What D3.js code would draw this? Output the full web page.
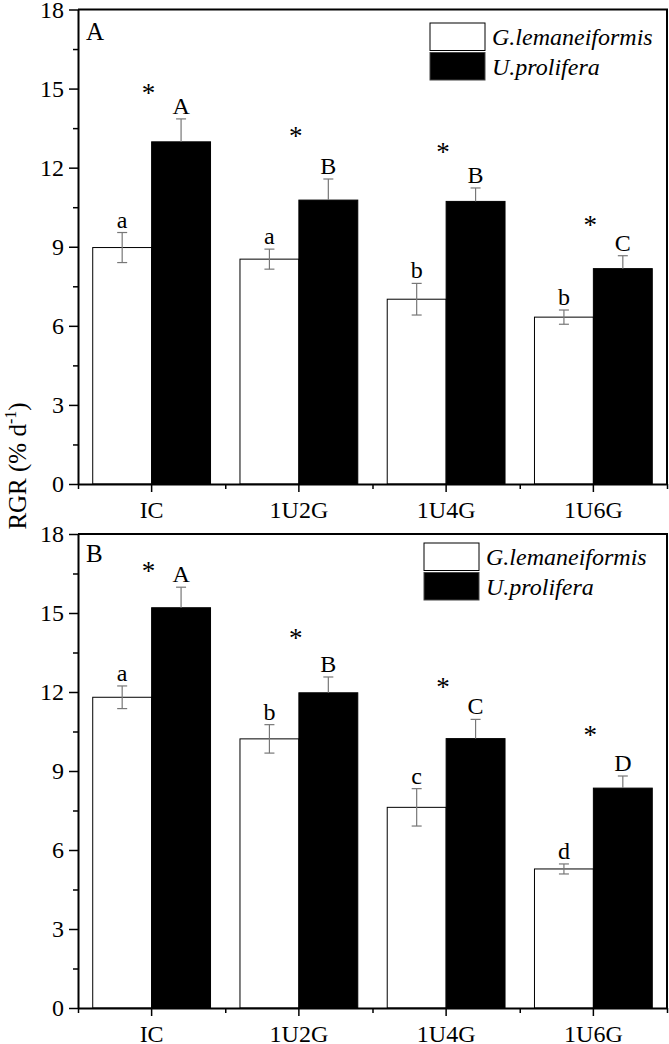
<!DOCTYPE html>
<html>
<head>
<meta charset="utf-8">
<script src="https://cdn.jsdelivr.net/npm/d3@7"></script>
<style>
  html, body { margin: 0; padding: 0; background: #fff; }
  svg { display: block; }
  text { font-family: "Liberation Serif", "Times New Roman", serif; fill: #000; }
</style>
</head>
<body>
<div id="chart"></div>
<script>
// ---------------------------------------------------------------------------
// Data
// ---------------------------------------------------------------------------

var categories = ["IC", "1U2G", "1U4G", "1U6G"];
var seriesNames = ["G.lemaneiformis", "U.prolifera"];
var yTicks = [0, 3, 6, 9, 12, 15, 18];
var yMinorTicks = [1.5, 4.5, 7.5, 10.5, 13.5, 16.5];

// panel A
var gValuesA = [8.97, 8.53, 7.01, 6.33];
var gErrorsA = [0.57, 0.38, 0.60, 0.27];
var uValuesA = [12.98, 10.77, 10.72, 8.17];
var uErrorsA = [0.87, 0.80, 0.51, 0.49];
var gLettersA = ["a", "a", "b", "b"];
var uLettersA = ["A", "B", "B", "C"];
var starsA = [15.04, 13.38, 12.77, 10.03];

// panel B
var gValuesB = [11.80, 10.22, 7.62, 5.28];
var gErrorsB = [0.43, 0.54, 0.71, 0.19];
var uValuesB = [15.20, 11.97, 10.23, 8.35];
var uErrorsB = [0.78, 0.60, 0.73, 0.46];
var gLettersB = ["a", "b", "c", "d"];
var uLettersB = ["A", "B", "C", "D"];
var starsB = [16.79, 14.25, 12.37, 10.55];

// ---------------------------------------------------------------------------
// Layout
// ---------------------------------------------------------------------------

var W = 669, H = 1044;
var plotLeft = 78, plotRight = 667;
var FONT = 24;

var svg = d3.select("#chart").append("svg")
    .attr("width", W)
    .attr("height", H);

var x0 = d3.scaleBand()
    .domain(categories)
    .range([plotLeft, plotRight])
    .paddingInner(0.2)
    .paddingOuter(0.1);

var x1 = d3.scaleBand()
    .domain(seriesNames)
    .range([0, x0.bandwidth()]);

// boundaries between groups, for the minor x ticks
var xEdges = d3.scaleLinear()
    .domain([0, categories.length])
    .range([plotLeft, plotRight]);

function drawPanel(opts) {
  var y = d3.scaleLinear()
      .domain([0, 18])
      .range([opts.bottom, opts.top]);

  var g = svg.append("g");

  var rows = categories.map(function(c, i) {
    return {
      cat: c,
      bars: [
        {s: seriesNames[0], v: opts.g[i], e: opts.gErr[i], l: opts.gLet[i]},
        {s: seriesNames[1], v: opts.u[i], e: opts.uErr[i], l: opts.uLet[i]}
      ],
      star: opts.stars[i]
    };
  });

  var groups = g.selectAll("g.grp")
      .data(rows)
    .enter().append("g")
      .attr("class", "grp")
      .attr("transform", function(d) { return "translate(" + x0(d.cat) + ",0)"; });

  groups.selectAll("rect")
      .data(function(d) { return d.bars; })
    .enter().append("rect")
      .attr("x", function(d) { return x1(d.s); })
      .attr("y", function(d) { return y(d.v); })
      .attr("width", x1.bandwidth())
      .attr("height", function(d) { return y(0) - y(d.v); })
      .attr("fill", function(d, i) { return i === 0 ? "#fff" : "#000"; })
      .attr("stroke", "#000")
      .attr("stroke-width", 1);

  // error bars (the black bars only show the upper half)
  var err = groups.selectAll("g.err")
      .data(function(d) { return d.bars; })
    .enter().append("g")
      .attr("class", "err")
      .attr("stroke", "#777")
      .attr("stroke-width", 1.2);

  err.append("line")
      .attr("x1", function(d) { return x1(d.s) + x1.bandwidth() / 2; })
      .attr("x2", function(d) { return x1(d.s) + x1.bandwidth() / 2; })
      .attr("y1", function(d, i) { return i === 0 ? y(d.v - d.e) : y(d.v); })
      .attr("y2", function(d) { return y(d.v + d.e); });

  err.append("line")
      .attr("x1", function(d) { return x1(d.s) + x1.bandwidth() / 2 - 5; })
      .attr("x2", function(d) { return x1(d.s) + x1.bandwidth() / 2 + 5; })
      .attr("y1", function(d) { return y(d.v + d.e); })
      .attr("y2", function(d) { return y(d.v + d.e); });

  err.filter(function(d, i) { return i === 0; }).append("line")
      .attr("x1", function(d) { return x1(d.s) + x1.bandwidth() / 2 - 5; })
      .attr("x2", function(d) { return x1(d.s) + x1.bandwidth() / 2 + 5; })
      .attr("y1", function(d) { return y(d.v - d.e); })
      .attr("y2", function(d) { return y(d.v - d.e); });

  // significance letters
  groups.selectAll("text.let")
      .data(function(d) { return d.bars; })
    .enter().append("text")
      .attr("class", "let")
      .attr("x", function(d) { return x1(d.s) + x1.bandwidth() / 2; })
      .attr("y", function(d) { return y(d.v + d.e) - 5; })
      .attr("text-anchor", "middle")
      .style("font-size", FONT + "px")
      .text(function(d) { return d.l; });

  // asterisks
  groups.append("text")
      .attr("x", x0.bandwidth() / 2 - 3)
      .attr("y", function(d) { return y(d.star) + 14; })
      .attr("text-anchor", "middle")
      .style("font-size", "27px")
      .text("*");

  // axes
  var yAxis = g.append("g")
      .attr("transform", "translate(" + plotLeft + ",0)")
      .call(d3.axisLeft(y).tickValues(yTicks).tickSize(9).tickSizeOuter(0).tickPadding(5));
  yAxis.selectAll("text").style("font-size", FONT + "px");

  g.append("g")
      .attr("transform", "translate(" + plotLeft + ",0)")
      .call(d3.axisLeft(y).tickValues(yMinorTicks).tickSize(5).tickFormat(""))
      .select(".domain").remove();

  var xAxis = g.append("g")
      .attr("transform", "translate(0," + opts.bottom + ")")
      .call(d3.axisBottom(x0).tickSize(8).tickSizeOuter(0).tickPadding(9));
  xAxis.selectAll("text").style("font-size", FONT + "px");

  g.append("g")
      .attr("transform", "translate(0," + opts.bottom + ")")
      .call(d3.axisBottom(xEdges).ticks(categories.length).tickSize(5).tickFormat(""))
      .select(".domain").remove();

  g.selectAll(".tick line").attr("stroke", "#000").attr("stroke-width", 1.5);
  g.selectAll(".domain").attr("stroke-width", 2);

  // frame on top and right
  g.append("path")
      .attr("d", "M" + plotLeft + "," + opts.top + "H" + plotRight + "V" + opts.bottom)
      .attr("fill", "none")
      .attr("stroke", "#000")
      .attr("stroke-width", 2);

  // panel tag
  g.append("text")
      .attr("x", plotLeft + 8)
      .attr("y", opts.top + opts.tagDy)
      .style("font-size", "25px")
      .text(opts.tag);

  // legend
  var lg = g.append("g")
      .attr("transform", "translate(" + opts.legX + "," + opts.legY + ")");
  var li = lg.selectAll("g")
      .data(seriesNames)
    .enter().append("g")
      .attr("transform", function(d, i) { return "translate(0," + i * 29.5 + ")"; });
  li.append("rect")
      .attr("width", 55)
      .attr("height", 27.5)
      .attr("fill", function(d, i) { return i === 0 ? "#fff" : "#000"; })
      .attr("stroke", function(d, i) { return i === 0 ? "#000" : "#444"; })
      .attr("stroke-width", 1);
  li.append("text")
      .attr("x", 62)
      .attr("y", 22)
      .style("font-size", "24px")
      .style("font-style", "italic")
      .text(function(d) { return d; });
}

drawPanel({
  top: 9.5, bottom: 484,
  g: gValuesA, gErr: gErrorsA, u: uValuesA, uErr: uErrorsA,
  gLet: gLettersA, uLet: uLettersA, stars: starsA,
  tag: "A", tagDy: 30, legX: 430, legY: 23
});

drawPanel({
  top: 534, bottom: 1008,
  g: gValuesB, gErr: gErrorsB, u: uValuesB, uErr: uErrorsB,
  gLet: gLettersB, uLet: uLettersB, stars: starsB,
  tag: "B", tagDy: 28, legX: 424, legY: 543
});

// shared y label
var yl = svg.append("text")
    .attr("transform", "translate(26,466) rotate(-90)")
    .attr("text-anchor", "middle")
    .style("font-size", "25px");
yl.append("tspan").text("RGR (% d");
yl.append("tspan").attr("dy", -10).style("font-size", "16px").text("-1");
yl.append("tspan").attr("dy", 10).text(")");
</script>
</body>
</html>
